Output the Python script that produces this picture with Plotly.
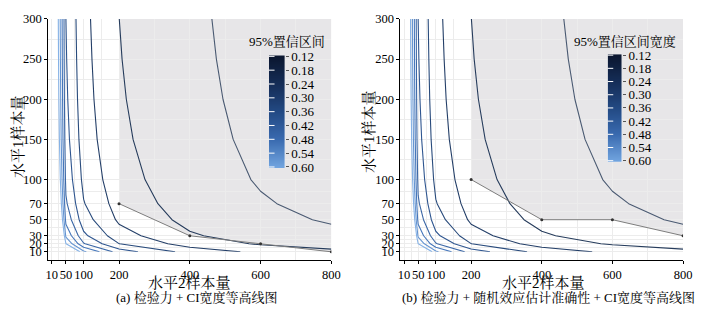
import plotly.graph_objects as go

# Level-2 sample sizes (x) and level-1 sample sizes (y) of the design grid
n2_vals = [10, 50, 100, 200, 400, 600, 800]
n1_vals = [10, 20, 30, 50, 70, 100, 150, 200, 250, 300]

# Width of the 95% CI at each grid point: one row per level-1 size, columns follow n2_vals
ci_width = [
    [1.7468, 0.7812, 0.5524, 0.3906, 0.2762, 0.2255, 0.1953],
    [1.3447, 0.6014, 0.4252, 0.3007, 0.2126, 0.1736, 0.1503],
    [1.1806, 0.5280, 0.3733, 0.2640, 0.1867, 0.1524, 0.1320],
    [1.0307, 0.4609, 0.3259, 0.2305, 0.1630, 0.1331, 0.1152],
    [0.9593, 0.4290, 0.3034, 0.2145, 0.1517, 0.1238, 0.1073],
    [0.9020, 0.4034, 0.2852, 0.2017, 0.1426, 0.1164, 0.1008],
    [0.8548, 0.3823, 0.2703, 0.1911, 0.1352, 0.1104, 0.0956],
    [0.8302, 0.3713, 0.2625, 0.1856, 0.1313, 0.1072, 0.0928],
    [0.8151, 0.3645, 0.2578, 0.1823, 0.1289, 0.1052, 0.0911],
    [0.8049, 0.3600, 0.2545, 0.1802, 0.1273, 0.1039, 0.0900],
]

# Contour levels
levels = [0.12, 0.18, 0.24, 0.30, 0.36, 0.42, 0.48, 0.54, 0.60]
level_labels = ["0.12", "0.18", "0.24", "0.30", "0.36", "0.42", "0.48", "0.54", "0.60"]

# Lower edge of the acceptable-design region in each panel
bound_a_n2 = [200, 400, 600, 800]
bound_a_n1 = [70, 30, 20, 10]
bound_b_n2 = [200, 400, 600, 800]
bound_b_n1 = [100, 50, 50, 30]
n1_max = 300

x_ticks = [10, 50, 100, 200, 400, 600, 800]
y_ticks = [10, 20, 30, 50, 70, 100, 150, 200, 250, 300]
x_minor = [30, 75, 150, 300, 500, 700]
y_minor = [15, 25, 40, 60, 85, 125, 175, 225, 275]

panel_captions = ["(a) 检验力 + CI宽度等高线图", "(b) 检验力 + 随机效应估计准确性 + CI宽度等高线图"]
cbar_titles = ["95%置信区间", "95%置信区间宽度"]

W, H = 712, 323
FONT = "Liberation Serif, 'Noto Serif CJK SC', 'Noto Sans CJK SC', serif"
BLUES = [
    [0.0, "#0b1730"],
    [0.25, "#152e58"],
    [0.5, "#234a84"],
    [0.75, "#3a6bb0"],
    [1.0, "#72a5e0"],
]
LINE_BLUES = [
    [0.0, "#4a5a72"],
    [0.15, "#1f3658"],
    [0.5, "#2f5690"],
    [0.75, "#4677bb"],
    [1.0, "#86b2e6"],
]


def fx(px):
    return px / W


def fy(py):
    return 1 - py / H


fig = go.Figure()

# main panels: pixel boxes (left, right, top, bottom)
panels = [
    dict(box=(46, 334, 12.5, 264.3), xa="x", ya="y", bx=bound_a_n2, by=bound_a_n1),
    dict(box=(404.3, 691.7, 12.5, 264.3), xa="x2", ya="y2", bx=bound_b_n2, by=bound_b_n1),
]

for i, p in enumerate(panels):
    fig.add_trace(go.Contour(
        x=n2_vals, y=n1_vals, z=ci_width,
        xaxis=p["xa"], yaxis=p["ya"],
        contours=dict(start=levels[0], end=levels[-1], size=0.06, coloring="lines"),
        colorscale=LINE_BLUES, zmin=levels[0], zmax=levels[-1], zauto=False,
        line=dict(width=1.1, smoothing=0), showscale=False, hoverinfo="skip",
    ))
    fig.add_trace(go.Scatter(
        x=p["bx"], y=p["by"], xaxis=p["xa"], yaxis=p["ya"],
        mode="lines+markers",
        line=dict(color="#7d7d7d", width=1),
        marker=dict(color="#333333", size=3),
        showlegend=False, hoverinfo="skip",
    ))
    # shaded region above the boundary
    pts = [(p["bx"][0], n1_max)] + list(zip(p["bx"], p["by"])) + [(p["bx"][-1], n1_max)]
    path = "M " + " L ".join(f"{a},{b}" for a, b in pts) + " Z"
    fig.add_shape(type="path", path=path, xref=p["xa"], yref=p["ya"],
                  fillcolor="#e7e6e8", line=dict(width=0), layer="below")

# colour bars drawn as small heatmaps with a reversed value axis
cbars = [
    dict(box=(270.5, 286.5, 50.5, 168.3), xa="x3", ya="y3", title_x=289, title_y=36.5),
    dict(box=(615, 629.5, 49.3, 161.7), xa="x4", ya="y4", title_x=633, title_y=36.5),
]
for c in cbars:
    fig.add_trace(go.Heatmap(
        x=[0, 1], y=levels, z=[[v, v] for v in levels],
        xaxis=c["xa"], yaxis=c["ya"], zsmooth="best",
        colorscale=BLUES, zmin=levels[0], zmax=levels[-1],
        showscale=False, hoverinfo="skip",
    ))
    fig.add_trace(go.Scatter(
        x=[-0.5] * len(levels), y=levels, xaxis=c["xa"], yaxis=c["ya"],
        mode="markers",
        marker=dict(symbol="line-ew", size=8, line=dict(color="white", width=1)),
        showlegend=False, hoverinfo="skip",
    ))

axis_common = dict(
    showline=True, linecolor="black", linewidth=1,
    ticks="outside", ticklen=3, tickcolor="black", tickwidth=1,
    showgrid=True, gridcolor="#ececec", gridwidth=1, zeroline=False,
    tickfont=dict(family=FONT, size=12.5, color="black"),
    tickangle=0, fixedrange=True,
)

layout = dict(
    width=W, height=H,
    margin=dict(l=0, r=0, t=0, b=0),
    paper_bgcolor="white", plot_bgcolor="white",
    showlegend=False,
    font=dict(family=FONT, color="black"),
)

for i, p in enumerate(panels):
    l, r, t, b = p["box"]
    sx = "" if i == 0 else "2"
    layout["xaxis" + sx] = dict(
        axis_common, domain=[fx(l), fx(r)], range=[0, 800],
        tickmode="array", tickvals=x_ticks, ticktext=[str(v) for v in x_ticks],
        anchor="y" + sx,
        minor=dict(tickmode="array", tickvals=x_minor, showgrid=True,
                   gridcolor="#ececec", ticks=""),
    )
    layout["yaxis" + sx] = dict(
        axis_common, domain=[fy(b), fy(t)], range=[0, 300],
        tickmode="array", tickvals=y_ticks, ticktext=[str(v) for v in y_ticks],
        anchor="x" + sx,
        minor=dict(tickmode="array", tickvals=y_minor, showgrid=True,
                   gridcolor="#ececec", ticks=""),
    )

for j, c in enumerate(cbars):
    l, r, t, b = c["box"]
    n = str(3 + j)
    layout["xaxis" + n] = dict(domain=[fx(l), fx(r)], range=[-0.5, 1.5],
                               visible=False, anchor="y" + n, fixedrange=True)
    layout["yaxis" + n] = dict(
        domain=[fy(b), fy(t)], range=[0.6045, 0.1155], anchor="x" + n,
        side="right", showline=False, showgrid=False, zeroline=False,
        tickmode="array", tickvals=levels, ticktext=level_labels,
        ticks="outside", ticklen=3, tickcolor="#555555", tickwidth=1,
        tickfont=dict(family=FONT, size=13, color="black"),
        fixedrange=True,
    )

fig.update_layout(**layout)

annotations = []
# axis titles and captions
title_pos = [
    dict(xt=190, yt=288, yl_x=15, yl_y=135, cap_x=197, cap_y=304),
    dict(xt=550, yt=288, yl_x=373, yl_y=130, cap_x=555, cap_y=304),
]
for i, tp in enumerate(title_pos):
    annotations.append(dict(text="水平2样本量", x=fx(tp["xt"]), y=fy(tp["yt"]),
                            xref="paper", yref="paper", showarrow=False,
                            xanchor="center", yanchor="middle",
                            font=dict(family=FONT, size=15, color="black")))
    annotations.append(dict(text="水平1样本量", x=fx(tp["yl_x"]), y=fy(tp["yl_y"]),
                            xref="paper", yref="paper", showarrow=False, textangle=-90,
                            xanchor="center", yanchor="middle",
                            font=dict(family=FONT, size=15, color="black")))
    annotations.append(dict(text=panel_captions[i], x=fx(tp["cap_x"]), y=fy(tp["cap_y"]),
                            xref="paper", yref="paper", showarrow=False,
                            xanchor="center", yanchor="middle",
                            font=dict(family=FONT, size=13, color="black")))
for j, c in enumerate(cbars):
    annotations.append(dict(text=cbar_titles[j], x=fx(c["title_x"]), y=fy(c["title_y"]),
                            xref="paper", yref="paper", showarrow=False,
                            xanchor="center", yanchor="middle",
                            font=dict(family=FONT, size=13, color="black")))
fig.update_layout(annotations=annotations)

fig.write_html("out.html")
